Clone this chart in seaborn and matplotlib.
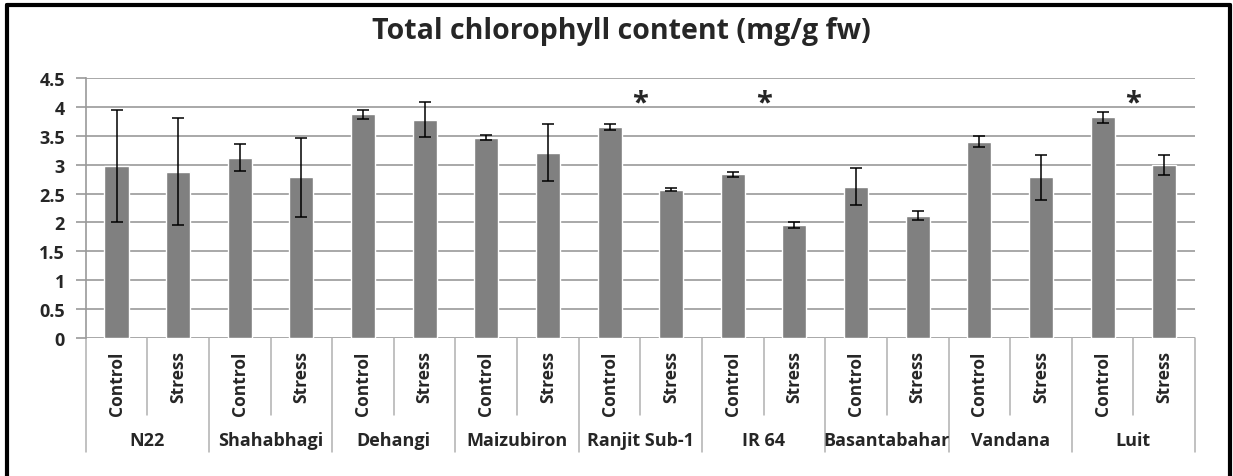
import numpy as np
import pandas as pd
import matplotlib
matplotlib.use('Agg')
import matplotlib.pyplot as plt
import matplotlib.transforms as mtransforms
from matplotlib.lines import Line2D
import seaborn as sns

# values
varieties = ['N22', 'Shahabhagi', 'Dehangi', 'Maizubiron', 'Ranjit Sub-1',
             'IR 64', 'Basantabahar', 'Vandana', 'Luit']
treatments = ['Control', 'Stress']
control_vals = [2.97, 3.12, 3.87, 3.47, 3.65, 2.83, 2.62, 3.40, 3.82]
stress_vals = [2.88, 2.78, 3.78, 3.21, 2.57, 1.95, 2.12, 2.78, 2.99]
control_err = [0.97, 0.23, 0.08, 0.05, 0.05, 0.05, 0.32, 0.09, 0.10]
stress_err = [0.93, 0.69, 0.30, 0.49, 0.03, 0.05, 0.07, 0.39, 0.17]
significant = ['Ranjit Sub-1', 'IR 64', 'Luit']
star_y = 4.06

rows = []
for i, v in enumerate(varieties):
    rows.append((f'{v}|Control', v, 'Control', control_vals[i], control_err[i]))
    rows.append((f'{v}|Stress', v, 'Stress', stress_vals[i], stress_err[i]))
df = pd.DataFrame(rows, columns=['slot', 'variety', 'treatment', 'value', 'err'])

sns.set_style('white')
plt.rcParams['font.family'] = ['Open Sans', 'DejaVu Sans']
plt.rcParams['font.weight'] = 'bold'

fig = plt.figure(figsize=(12.33, 4.77), dpi=100)
ax = fig.add_axes([0.0695, 0.2893, 0.8997, 0.5451])

sns.barplot(data=df, x='slot', y='value', color='#808080', width=0.39,
            saturation=1, errorbar=None, ax=ax, zorder=3)
xs = np.arange(len(df))
ax.errorbar(xs, df['value'], yerr=df['err'], fmt='none', ecolor='black',
            elinewidth=1.1, capsize=4, capthick=1.1, zorder=4)

ax.set_xlim(-0.5, len(df) - 0.5)
ax.set_ylim(0, 4.5)
ax.set_yticks(np.arange(0, 4.51, 0.5))
ax.set_yticklabels(['0', '0.5', '1', '1.5', '2', '2.5', '3', '3.5', '4', '4.5'],
                   fontsize=13, fontweight='bold')
ax.grid(axis='y', color='#9a9a9a', linewidth=1.2, zorder=0)
ax.set_axisbelow(True)
ax.tick_params(axis='y', length=7, color='#9a9a9a', width=1.2, pad=8, left=True)
ax.tick_params(axis='x', length=0, labelbottom=False)
ax.set_xlabel('')
ax.set_ylabel('')
for s in ['top', 'right', 'bottom']:
    ax.spines[s].set_visible(False)
ax.spines['left'].set_color('#9a9a9a')
ax.spines['left'].set_linewidth(1.2)

fig.text(0.504, 0.935, 'Total chlorophyll content (mg/g fw)', fontsize=20.5,
         fontweight='bold', ha='center', va='center')

# significance stars over each variety
for v in significant:
    g = varieties.index(v)
    ax.text(2 * g + 0.5, star_y, '*', ha='center', va='center',
            fontsize=21, fontweight='bold')

# two-level category axis
trans = mtransforms.blended_transform_factory(ax.transData, ax.transAxes)
sep_kw = dict(color='#b0b0b0', linewidth=1.1, transform=trans, clip_on=False)
for k in range(len(df) + 1):
    low = -0.438 if k % 2 == 0 else -0.295
    ax.plot([k - 0.5, k - 0.5], [0, low], **sep_kw)
for k, row in df.iterrows():
    ax.text(k, -0.048, row['treatment'], rotation=90, ha='center', va='top',
            fontsize=12.5, fontweight='bold', transform=trans)
for g, v in enumerate(varieties):
    ax.text(2 * g + 0.5, -0.392, v, ha='center', va='center',
            fontsize=13, fontweight='bold', transform=trans)

# black frame around the chart (open at the bottom)
frame = dict(color='black', linewidth=3, transform=fig.transFigure)
fig.add_artist(Line2D([0.0057, 0.9976], [0.987, 0.987], **frame))
fig.add_artist(Line2D([0.0057, 0.0057], [0.0, 0.987], **frame))
fig.add_artist(Line2D([0.9976, 0.9976], [0.0, 0.987], **frame))

fig.savefig('out.png', dpi=100)
